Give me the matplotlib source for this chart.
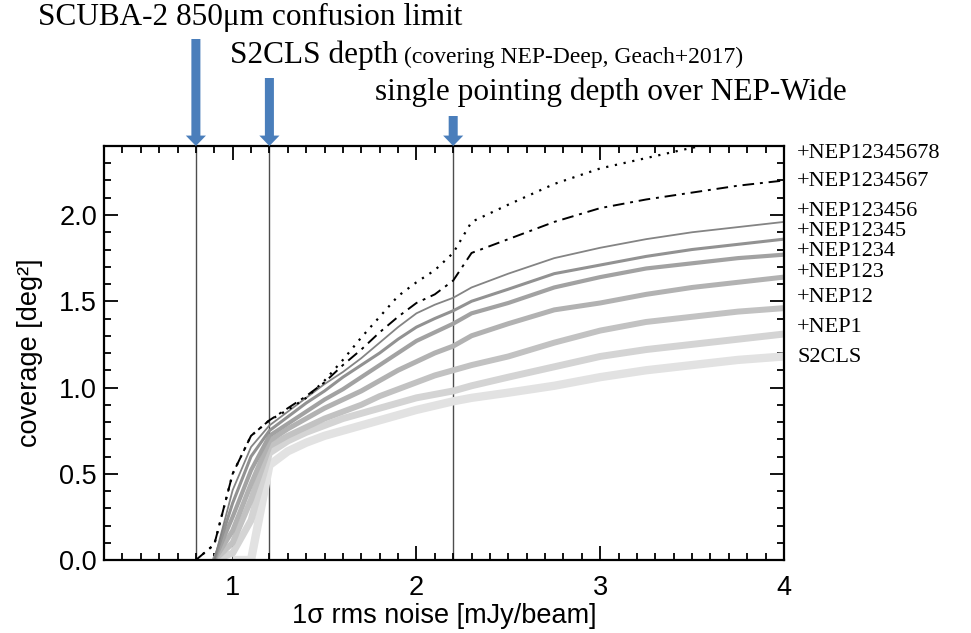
import numpy as np
import matplotlib
matplotlib.use("Agg")
import matplotlib.pyplot as plt
from matplotlib.ticker import MultipleLocator

# noise grid [mJy/beam]
noise = [0.8, 0.9, 1.0, 1.1, 1.2, 1.3, 1.4, 1.5, 1.6, 1.7, 1.8, 1.9,
         2.0, 2.1, 2.2, 2.3, 2.5, 2.75, 3.0, 3.25, 3.5, 3.75, 4.0]

nan = np.nan
# coverage [deg^2] for each survey combination
s2cls = [nan, nan, 0.0, 0.0, 0.55, 0.63, 0.68, 0.72, 0.75, 0.78, 0.81, 0.84,
         0.87, 0.895, 0.92, 0.94, 0.97, 1.01, 1.06, 1.10, 1.13, 1.16, 1.18]
nep1 = [nan, 0.0, 0.04, 0.23, 0.62, 0.69, 0.74, 0.78, 0.82, 0.85, 0.88, 0.91,
        0.94, 0.96, 0.98, 1.01, 1.06, 1.12, 1.18, 1.22, 1.25, 1.28, 1.31]
nep12 = [nan, 0.0, 0.10, 0.35, 0.66, 0.72, 0.77, 0.82, 0.86, 0.90, 0.95, 0.99,
         1.03, 1.07, 1.10, 1.13, 1.18, 1.26, 1.33, 1.38, 1.41, 1.44, 1.46]
nep123 = [nan, 0.0, 0.17, 0.44, 0.69, 0.76, 0.82, 0.88, 0.93, 0.98, 1.04, 1.10,
          1.15, 1.20, 1.24, 1.30, 1.37, 1.45, 1.49, 1.54, 1.58, 1.61, 1.64]
nep1234 = [nan, 0.0, 0.25, 0.52, 0.72, 0.79, 0.86, 0.93, 0.99, 1.06, 1.13, 1.20,
           1.27, 1.32, 1.37, 1.43, 1.49, 1.58, 1.64, 1.69, 1.72, 1.75, 1.77]
nep12345 = [nan, 0.0, 0.33, 0.60, 0.75, 0.83, 0.91, 0.98, 1.06, 1.13, 1.20, 1.28,
            1.35, 1.40, 1.445, 1.50, 1.57, 1.66, 1.71, 1.76, 1.80, 1.83, 1.86]
nep123456 = [nan, 0.0, 0.405, 0.655, 0.78, 0.86, 0.94, 1.02, 1.09, 1.17, 1.26, 1.35,
             1.43, 1.48, 1.52, 1.58, 1.66, 1.75, 1.81, 1.86, 1.90, 1.93, 1.96]
nep1234567 = [0.0, 0.09, 0.50, 0.72, 0.81, 0.88, 0.95, 1.03, 1.13, 1.22, 1.32, 1.41,
              1.49, 1.54, 1.62, 1.78, 1.86, 1.96, 2.04, 2.09, 2.13, 2.17, 2.20]
nep12345678 = [0.0, 0.09, 0.50, 0.72, 0.81, 0.87, 0.94, 1.04, 1.16, 1.29, 1.41, 1.53,
               1.61, 1.68, 1.78, 1.96, 2.06, 2.18, 2.27, 2.33, 2.39, 2.44, 2.48]

labels = ["S2CLS", "+NEP1", "+NEP12", "+NEP123", "+NEP1234", "+NEP12345",
          "+NEP123456", "+NEP1234567", "+NEP12345678"]
label_y_px = [357, 327, 298, 272, 251, 231, 212, 182, 154]

depths = [0.8, 1.2, 2.2]

W, H = 971, 633
fig = plt.figure(figsize=(W / 100, H / 100), dpi=100)
ax = fig.add_axes([104 / W, 1 - 560 / H, 680 / W, 414 / H])

series = [s2cls, nep1, nep12, nep123, nep1234, nep12345, nep123456]
greys = ["#e2e2e2", "#d4d4d4", "#c2c2c2", "#b2b2b2", "#a2a2a2", "#929292", "#848484"]
widths = [6.0, 5.0, 4.3, 3.6, 3.0, 2.2, 1.3]
for ys, c, lw in zip(series, greys, widths):
    ax.plot(noise, ys, color=c, lw=lw, solid_capstyle="butt", zorder=2)
ax.plot(noise, nep1234567, color="black", lw=1.4, ls=(0, (6, 3, 1.5, 3)), zorder=3)
ax.plot(noise, nep12345678, color="black", lw=1.6, ls=(0, (1, 3)), zorder=3)

for d in depths:
    ax.axvline(d, color="#4d4d4d", lw=1.0, zorder=1)

ax.set_xlim(0.3, 4.0)
ax.set_ylim(0.0, 2.4)
ax.xaxis.set_major_locator(MultipleLocator(1))
ax.xaxis.set_minor_locator(MultipleLocator(0.1))
ax.yaxis.set_major_locator(MultipleLocator(0.5))
ax.yaxis.set_minor_locator(MultipleLocator(0.1))
ax.yaxis.set_major_formatter(matplotlib.ticker.FormatStrFormatter("%.1f"))
ax.tick_params(which="both", direction="in", top=True, right=True, width=1.3,
               labelsize=19.5, labelfontfamily="Liberation Sans")
ax.tick_params(which="major", length=10)
ax.tick_params(which="minor", length=5)
ax.tick_params(axis="x", pad=11)
ax.tick_params(axis="y", pad=5)
for sp in ax.spines.values():
    sp.set_linewidth(1.6)

ax.set_xlabel("1σ rms noise [mJy/beam]", fontsize=19.5, family="Liberation Sans", labelpad=1)
ax.set_ylabel("coverage [deg²]", fontsize=19.5, family="Liberation Sans", labelpad=12)

# labels on the right side
for lab, py in zip(labels, label_y_px):
    fig.text(797 / W, 1 - py / H, lab, fontsize=16, family="Liberation Serif",
             va="center", ha="left")

# annotations and arrows on top
serif = "Liberation Serif"
fig.text(38 / W, 1 - 25 / H, "SCUBA-2 850μm confusion limit", fontsize=22.5,
         family=serif, va="baseline")
fig.text(230 / W, 1 - 63 / H, "S2CLS depth", fontsize=22.5, family=serif, va="baseline")
fig.text(404 / W, 1 - 63 / H, "(covering NEP-Deep, Geach+2017)", fontsize=17,
         family=serif, va="baseline")
fig.text(375 / W, 1 - 100 / H, "single pointing depth over NEP-Wide", fontsize=22.5,
         family=serif, va="baseline")

arrow_top_px = [39, 78, 116]
for d, top in zip(depths, arrow_top_px):
    ax.annotate("", xy=(d, 1.0), xycoords=("data", "axes fraction"),
                xytext=(d, 1 - top / H), textcoords=("data", "figure fraction"),
                arrowprops=dict(arrowstyle="simple,head_length=0.75,head_width=1.45,tail_width=0.65",
                                mutation_scale=10, color="#4a7ebb", lw=0,
                                shrinkA=0, shrinkB=0),
                annotation_clip=False)

fig.savefig("out.png", dpi=100)
